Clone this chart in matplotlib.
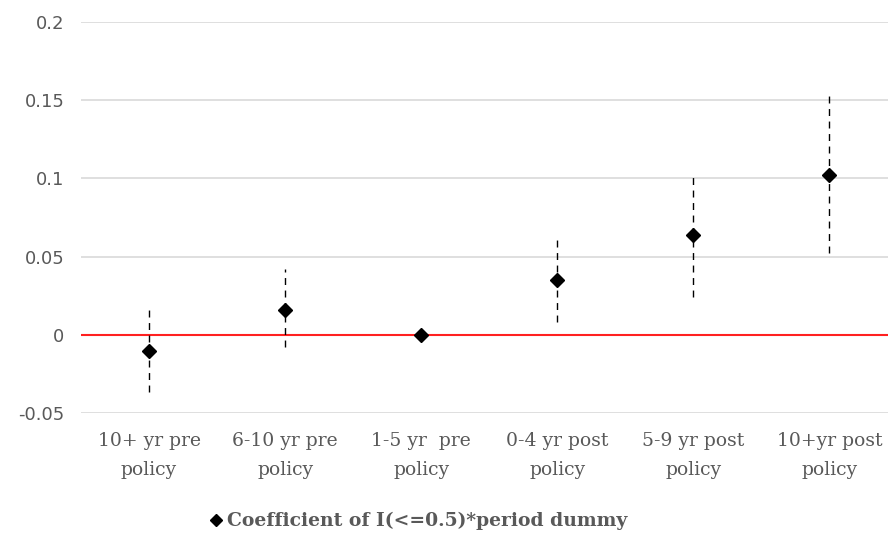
import numpy as np
import matplotlib.pyplot as plt
import matplotlib as mpl
from matplotlib.lines import Line2D

mpl.rcParams['font.family'] = 'DejaVu Sans'

categories = ['10+ yr pre\npolicy', '6-10 yr pre\npolicy', '1-5 yr  pre\npolicy',
              '0-4 yr post\npolicy', '5-9 yr post\npolicy', '10+yr post\npolicy']
coef = [-0.0103, 0.016, 0.0, 0.0348, 0.0637, 0.102]
ci_hi = [0.018, 0.042, 0.0, 0.063, 0.104, 0.153]
ci_lo = [-0.0365, -0.0077, 0.0, 0.0083, 0.0244, 0.052]
yticks = [-0.05, 0, 0.05, 0.1, 0.15, 0.2]
ytick_labels = ['-0.05', '0', '0.05', '0.1', '0.15', '0.2']

fig = plt.figure(figsize=(8.88, 5.39), dpi=100)
ax = fig.add_axes([0.0912, 0.234, 0.9088, 0.725])

x = np.arange(len(categories))
for yv in yticks:
    if yv != 0:
        ax.axhline(yv, color='#d9d9d9', lw=1.2, zorder=0)
ax.axhline(0, color='#ff2020', lw=1.5, zorder=1)

for xi, lo, hi in zip(x, ci_lo, ci_hi):
    if hi != lo:
        ax.plot([xi, xi], [lo, hi], color='black', lw=1, ls=(0, (5, 4)), zorder=2)
ax.plot(x, coef, ls='none', marker='D', color='black', markersize=7.5, zorder=3)

ax.set_xlim(-0.5, 5.43)
ax.set_ylim(-0.05, 0.2)
ax.set_yticks(yticks)
ax.set_yticklabels(ytick_labels, color='#595959', fontsize=13)
ax.set_xticks(x)
ax.set_xticklabels(categories, color='#595959', fontsize=13.5, family='DejaVu Serif',
                   linespacing=1.75)
ax.tick_params(length=0)
ax.tick_params(axis='y', pad=12)
ax.tick_params(axis='x', pad=14)
for s in ax.spines.values():
    s.set_visible(False)

handle = Line2D([], [], ls='none', marker='D', color='black', markersize=6)
leg = fig.legend([handle], ['Coefficient of I(<=0.5)*period dummy'], loc='center',
                 bbox_to_anchor=(0.47, 0.033), frameon=False, handletextpad=0.1,
                 handlelength=1.0,
                 prop={'family': 'DejaVu Serif', 'weight': 'bold', 'size': 13.5})
for t in leg.get_texts():
    t.set_color('#595959')

fig.savefig('out.png', dpi=100)
